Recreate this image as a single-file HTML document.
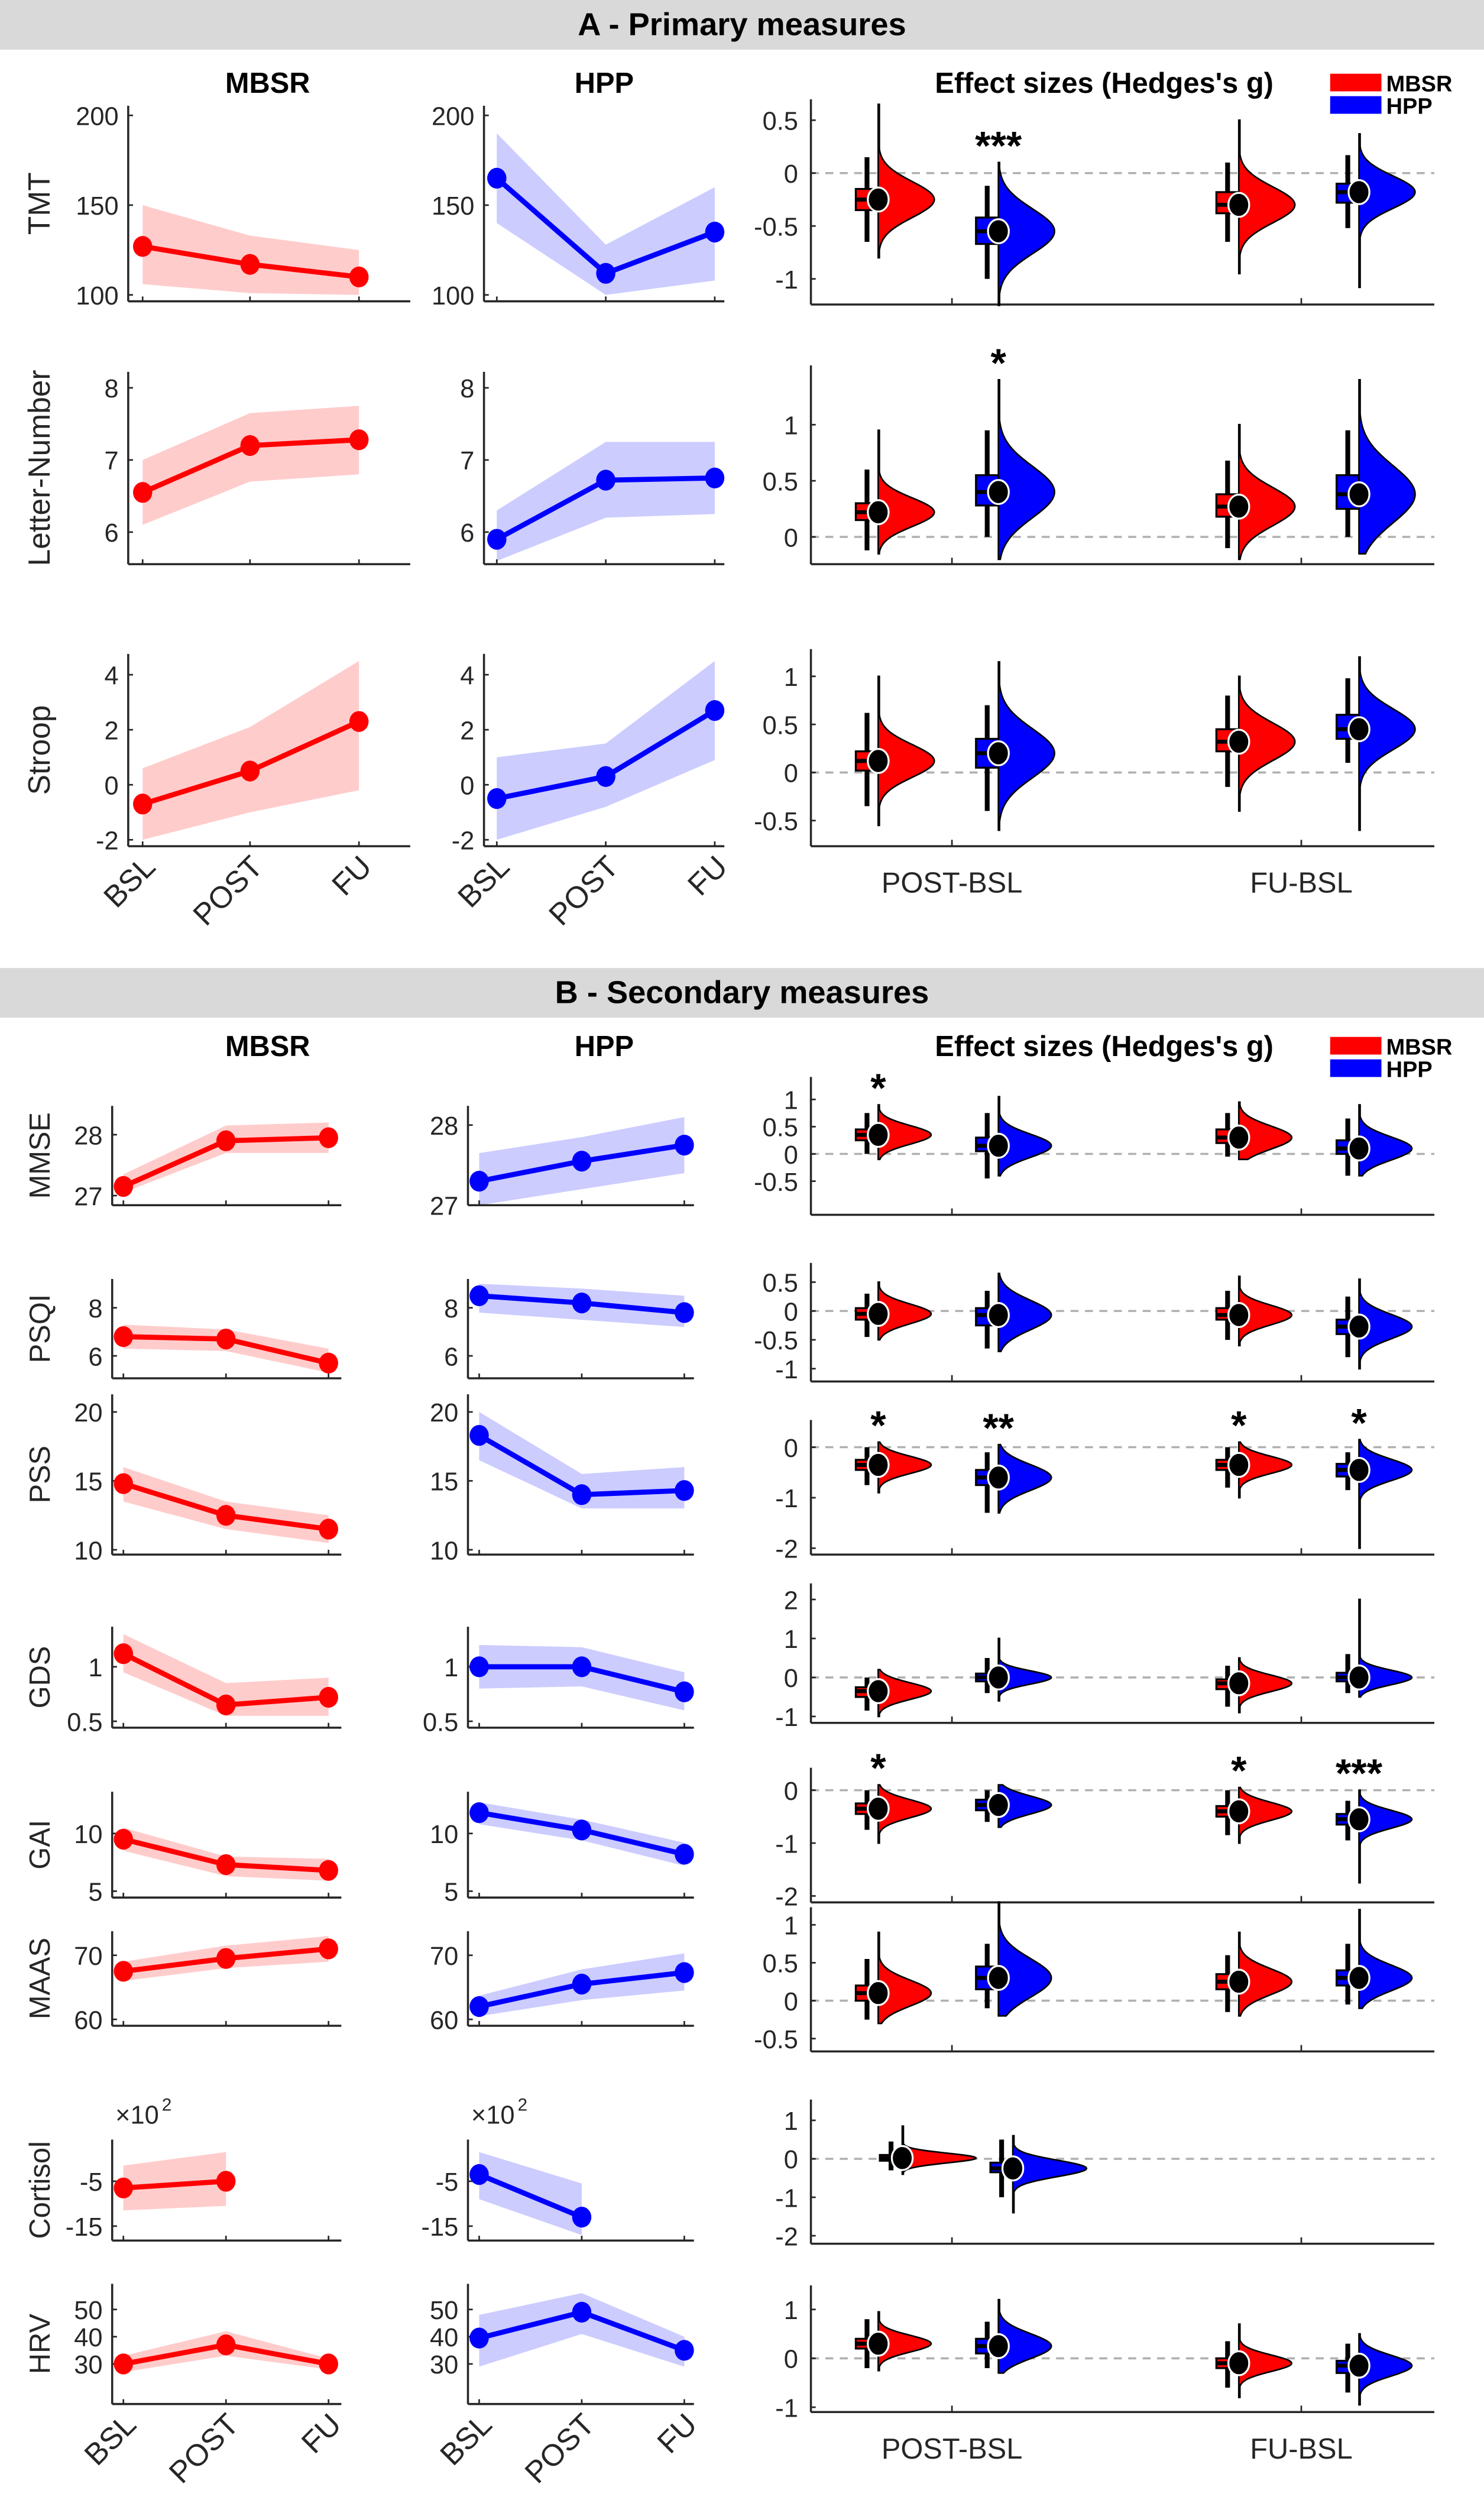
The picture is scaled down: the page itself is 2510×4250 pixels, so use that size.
<!DOCTYPE html>
<html><head><meta charset="utf-8"><title>MBSR vs HPP figure</title>
<style>
html,body{margin:0;padding:0;background:#fff;}
svg{display:block;font-family:"Liberation Sans",Arial,sans-serif;}
</style></head>
<body>
<svg id="fig" width="2510" height="4250" viewBox="0 0 926 1568" preserveAspectRatio="none" xmlns="http://www.w3.org/2000/svg">
<rect x="0" y="0" width="926" height="1568" fill="#fff"/>
<rect x="0" y="0" width="926" height="31" fill="#d9d9d9"/>
<text x="463" y="22" text-anchor="middle" font-size="20" font-weight="bold">A - Primary measures</text>
<rect x="0" y="604" width="926" height="31" fill="#d9d9d9"/>
<text x="463" y="626" text-anchor="middle" font-size="20" font-weight="bold">B - Secondary measures</text>
<g id="plots"></g>
</svg>
<script>
// ---------- DATA ----------
const timepoints = ["BSL","POST","FU"];
const contrasts = ["POST-BSL","FU-BSL"];
const measuresA = ["TMT","Letter-Number","Stroop"];
const measuresB = ["MMSE","PSQI","PSS","GDS","GAI","MAAS","Cortisol","HRV"];

const mbsrMean = {TMT:[127,117,110],"Letter-Number":[6.55,7.2,7.28],Stroop:[-0.7,0.5,2.3],MMSE:[27.15,27.9,27.95],PSQI:[6.8,6.7,5.7],PSS:[14.8,12.5,11.5],GDS:[1.12,0.65,0.72],GAI:[9.5,7.3,6.8],MAAS:[67.5,69.5,71],Cortisol:[-6.5,-5],HRV:[30,37,30]};
const mbsrLo = {TMT:[106,101,100],"Letter-Number":[6.1,6.7,6.8],Stroop:[-2,-1,-0.2],MMSE:[27.05,27.7,27.7],PSQI:[6.3,6.2,5.3],PSS:[13.5,11.5,10.5],GDS:[0.95,0.55,0.55],GAI:[8.5,6.3,5.9],MAAS:[66,68,69],Cortisol:[-11.5,-10.5],HRV:[27,33,28]};
const mbsrHi = {TMT:[150,133,125],"Letter-Number":[7.0,7.65,7.75],Stroop:[0.6,2.1,4.5],MMSE:[27.35,28.15,28.2],PSQI:[7.3,7.1,6.3],PSS:[16,13.5,12.5],GDS:[1.3,0.85,0.9],GAI:[10.5,8.0,7.8],MAAS:[69,71.5,73],Cortisol:[-1.5,1.5],HRV:[33,42,32]};
const hppMean = {TMT:[165,112,135],"Letter-Number":[5.9,6.72,6.75],Stroop:[-0.5,0.3,2.7],MMSE:[27.3,27.55,27.75],PSQI:[8.5,8.2,7.8],PSS:[18.3,14,14.3],GDS:[1.0,1.0,0.77],GAI:[11.8,10.3,8.2],MAAS:[62,65.5,67.3],Cortisol:[-3.5,-13],HRV:[39.5,49,35]};
const hppLo = {TMT:[140,100,108],"Letter-Number":[5.6,6.2,6.25],Stroop:[-2,-0.8,0.9],MMSE:[27.0,27.2,27.4],PSQI:[7.8,7.5,7.2],PSS:[16.5,13,13],GDS:[0.8,0.82,0.6],GAI:[10.8,9.4,7.2],MAAS:[60.5,63,64.5],Cortisol:[-9,-17],HRV:[29,41,29]};
const hppHi = {TMT:[190,128,160],"Letter-Number":[6.3,7.25,7.25],Stroop:[1.0,1.5,4.5],MMSE:[27.65,27.85,28.1],PSQI:[9.0,8.8,8.5],PSS:[20,15.5,16],GDS:[1.2,1.18,0.95],GAI:[12.7,11.2,9.2],MAAS:[63.7,67.8,70.3],Cortisol:[1.5,-5.5],HRV:[48,56,40]};
const leftTicks = {TMT:[200,150,100],"Letter-Number":[8,7,6],Stroop:[4,2,0,-2],MMSE:[28,27],PSQI:[8,6],PSS:[20,15,10],GDS:[1,0.5],GAI:[10,5],MAAS:[70,60],Cortisol:[-5,-15],HRV:[50,40,30]};

// effect sizes: order [MBSR POST-BSL, HPP POST-BSL, MBSR FU-BSL, HPP FU-BSL]
const effMean = {TMT:[-0.25,-0.55,-0.3,-0.18],"Letter-Number":[0.22,0.4,0.27,0.38],Stroop:[0.12,0.2,0.32,0.45],MMSE:[0.35,0.15,0.3,0.1],PSQI:[-0.05,-0.07,-0.07,-0.27],PSS:[-0.35,-0.6,-0.35,-0.45],GDS:[-0.35,0,-0.15,0],GAI:[-0.35,-0.28,-0.4,-0.55],MAAS:[0.1,0.3,0.25,0.3],Cortisol:[0.02,-0.25],HRV:[0.3,0.25,-0.1,-0.15]};
const effBoxLo = {TMT:[-0.35,-0.67,-0.38,-0.28],"Letter-Number":[0.15,0.28,0.18,0.25],Stroop:[0.02,0.05,0.22,0.35],MMSE:[0.25,0.05,0.2,0],PSQI:[-0.15,-0.25,-0.15,-0.4],PSS:[-0.45,-0.75,-0.45,-0.58],GDS:[-0.5,-0.1,-0.3,-0.1],GAI:[-0.45,-0.38,-0.5,-0.65],MAAS:[0,0.15,0.15,0.2],Cortisol:[-0.05,-0.35],HRV:[0.2,0.1,-0.2,-0.3]};
const effBoxHi = {TMT:[-0.15,-0.42,-0.18,-0.1],"Letter-Number":[0.3,0.55,0.38,0.55],Stroop:[0.22,0.35,0.45,0.6],MMSE:[0.45,0.3,0.45,0.25],PSQI:[0.05,0.05,0.05,-0.15],PSS:[-0.25,-0.45,-0.25,-0.33],GDS:[-0.25,0.1,-0.05,0.12],GAI:[-0.25,-0.18,-0.3,-0.45],MAAS:[0.2,0.45,0.35,0.4],Cortisol:[0.1,-0.1],HRV:[0.4,0.4,0,-0.05]};
const effWhLo = {TMT:[-0.65,-1.0,-0.65,-0.52],"Letter-Number":[-0.12,0,-0.1,0],Stroop:[-0.35,-0.4,-0.15,0.1],MMSE:[0,-0.45,-0.05,-0.4],PSQI:[-0.45,-0.65,-0.5,-0.8],PSS:[-0.75,-1.3,-0.8,-0.85],GDS:[-0.85,-0.4,-0.75,-0.4],GAI:[-0.75,-0.6,-0.85,-0.95],MAAS:[-0.25,-0.1,-0.15,-0.05],Cortisol:[-0.3,-1.0],HRV:[-0.2,-0.2,-0.6,-0.7]};
const effWhHi = {TMT:[0.15,-0.12,0.1,0.17],"Letter-Number":[0.6,0.95,0.68,0.95],Stroop:[0.62,0.7,0.8,0.98],MMSE:[0.75,0.75,0.75,0.65],PSQI:[0.3,0.35,0.35,0.25],PSS:[0,-0.1,0,-0.1],GDS:[0,0.5,0.3,0.6],GAI:[0,0,0,-0.2],MAAS:[0.55,0.75,0.6,0.75],Cortisol:[0.45,0.5],HRV:[0.8,0.75,0.35,0.3]};
const effVMin = {TMT:[-0.8,-1.25,-0.95,-1.08],"Letter-Number":[-0.15,-0.2,-0.2,-0.15],Stroop:[-0.55,-0.6,-0.4,-0.6],MMSE:[-0.1,-0.4,-0.1,-0.4],PSQI:[-0.5,-0.7,-0.6,-1.0],PSS:[-0.9,-1.3,-1.0,-2.0],GDS:[-1.0,-0.6,-0.9,-0.5],GAI:[-1.0,-0.7,-1.0,-1.75],MAAS:[-0.3,-0.2,-0.2,-0.1],Cortisol:[-0.4,-1.4],HRV:[-0.25,-0.3,-0.8,-0.95]};
const effVMax = {TMT:[0.65,0.1,0.5,0.37],"Letter-Number":[0.95,1.4,1.0,1.4],Stroop:[1.0,1.15,1.0,1.2],MMSE:[0.9,1.05,0.95,0.9],PSQI:[0.5,0.65,0.6,0.55],PSS:[0.1,0.05,0.1,0.15],GDS:[0.2,1.0,0.5,2.0],GAI:[0.1,0.1,0.05,0],MAAS:[0.9,1.3,0.9,1.2],Cortisol:[0.85,0.6],HRV:[0.95,1.2,0.7,0.5]};
const effStars = {TMT:["","***","",""],"Letter-Number":["","*","",""],Stroop:["","","",""],MMSE:["*","","",""],PSQI:["","","",""],PSS:["*","**","*","*"],GDS:["","","",""],GAI:["*","","*","***"],MAAS:["","","",""],Cortisol:["",""],HRV:["","","",""]};
const effTicks = {TMT:[0.5,0,-0.5,-1],"Letter-Number":[1,0.5,0],Stroop:[1,0.5,0,-0.5],MMSE:[1,0.5,0,-0.5],PSQI:[0.5,0,-0.5,-1],PSS:[0,-1,-2],GDS:[2,1,0,-1],GAI:[0,-1,-2],MAAS:[1,0.5,0,-0.5],Cortisol:[1,0,-1,-2],HRV:[1,0,-1]};

// ---------- LAYOUT (pixel geometry, not data) ----------
const layoutLeft = {
 TMT:{top:66,bot:188,a:[200,72,100,184],b:[200,72,100,184]},
 "Letter-Number":{top:232,bot:352,a:[8,242,6,332],b:[8,242,6,332]},
 Stroop:{top:408,bot:528,a:[4,421,-2,524],b:[4,421,-2,524]},
 MMSE:{top:690,bot:752,a:[28,708,27,746],b:[28,702,27,752]},
 PSQI:{top:798,bot:860,a:[8,816,6,846],b:[8,816,6,846]},
 PSS:{top:870,bot:970,a:[20,881,10,967],b:[20,881,10,967]},
 GDS:{top:1015,bot:1078,a:[1,1040,0.5,1074],b:[1,1040,0.5,1074]},
 GAI:{top:1118,bot:1184,a:[10,1144,5,1180],b:[10,1144,5,1180]},
 MAAS:{top:1205,bot:1264,a:[70,1220,60,1260],b:[70,1220,60,1260]},
 Cortisol:{top:1335,bot:1398,a:[-5,1361,-15,1389],b:[-5,1361,-15,1389]},
 HRV:{top:1425,bot:1500,a:[50,1441,30,1475],b:[50,1441,30,1475]}
};
const layoutEff = {
 TMT:{top:62,bot:190,s:[0,108,-1,174]},
 "Letter-Number":{top:228,bot:352,s:[1,265,0,335]},
 Stroop:{top:405,bot:528,s:[1,422,0,482]},
 MMSE:{top:672,bot:758,s:[1,686,0,720]},
 PSQI:{top:788,bot:862,s:[0.5,800,-1,854]},
 PSS:{top:886,bot:970,s:[0,903,-2,966]},
 GDS:{top:988,bot:1075,s:[2,998,-1,1071]},
 GAI:{top:1103,bot:1187,s:[0,1117,-2,1183]},
 MAAS:{top:1190,bot:1280,s:[1,1201,-0.5,1272]},
 Cortisol:{top:1310,bot:1400,s:[1,1323,-2,1395]},
 HRV:{top:1426,bot:1505,s:[1,1441,-1,1502]}
};
const RED="#ff0000", BLUE="#0000ff", RED_BAND="#ffcccc", BLUE_BAND="#ccccff";
const NS="http://www.w3.org/2000/svg";
const root=document.getElementById('plots');

function mk(tag,attrs,parent,text){
  const e=document.createElementNS(NS,tag);
  for(const k in attrs) e.setAttribute(k,attrs[k]);
  if(text!==undefined) e.textContent=text;
  (parent||root).appendChild(e);
  return e;
}
function lin(s){ // s=[v1,p1,v2,p2]
  const k=(s[3]-s[1])/(s[2]-s[0]);
  return v=>s[1]+(v-s[0])*k;
}
function fmt(v){ return String(v).replace(/^0\./,"0.").replace(/^-0\./,"-0."); }

function leftPanel(name,grp,axisX,xs,endX,yScale,top,bot,mean,lo,hi,color,band,showX,ticks,exp){
  const g=mk('g',{});
  
  
  const n=mean.length;
  const px=i=>xs[i];
  // band
  let pts=[];
  for(let i=0;i<n;i++) pts.push(px(i)+','+yScale(hi[i]));
  for(let i=n-1;i>=0;i--) pts.push(px(i)+','+yScale(lo[i]));
  const bd=mk('polygon',{points:pts.join(' '),fill:band,stroke:'none'},g);
  
  
  // axes
  const ya=mk('line',{x1:axisX,y1:top,x2:axisX,y2:bot,stroke:'#262626','stroke-width':1.3},g);
  
  
  const xa=mk('line',{x1:axisX,y1:bot,x2:endX,y2:bot,stroke:'#262626','stroke-width':1.3},g);
  
  
  for(let i=0;i<3;i++) mk('line',{x1:xs[i],y1:bot,x2:xs[i],y2:bot-3,stroke:'#262626','stroke-width':1},g);
  ticks.forEach(t=>{
    const y=yScale(t);
    mk('line',{x1:axisX,y1:y,x2:axisX+3,y2:y,stroke:'#262626','stroke-width':1},g);
    const tl=mk('text',{x:axisX-6,y:y+6,'text-anchor':'end','font-size':16,fill:'#262626'},g,fmt(t));
    
    
  });
  if(exp){
    const et=mk('text',{x:axisX+2,y:top-10,'font-size':16,fill:'#262626'},g,'×10');
    
    
    mk('text',{x:axisX+31,y:top-18,'font-size':11,fill:'#262626'},g,'2');
  }
  // line
  let d='';
  for(let i=0;i<n;i++) d+=(i?'L':'M')+px(i)+' '+yScale(mean[i]);
  const ln=mk('path',{d:d,fill:'none',stroke:color,'stroke-width':3.2},g);
  
  
  for(let i=0;i<n;i++){
    const c=mk('ellipse',{cx:px(i),cy:yScale(mean[i]),rx:6,ry:6.5,fill:color},g);
    
    
  }
  if(showX){
    for(let i=0;i<3;i++){
      const t=mk('text',{x:0,y:0,'text-anchor':'end','font-size':19,fill:'#262626',transform:'translate('+(xs[i]+9)+','+(bot+14)+') rotate(-45)'},g,timepoints[i]);
      
      
    }
  }
}

function effPanel(name,ys,top,bot,showX,splits,wmax){
  const g=mk('g',{});
  
  
  const ax=506, ex=895;
  const z=ys(0);
  const dz=mk('line',{x1:ax,y1:z,x2:ex,y2:z,stroke:'#b0b0b0','stroke-width':1.3,'stroke-dasharray':'5,4'},g);
  
  
  const ya=mk('line',{x1:ax,y1:top,x2:ax,y2:bot,stroke:'#262626','stroke-width':1.3},g);
  
  
  const xa=mk('line',{x1:ax,y1:bot,x2:ex,y2:bot,stroke:'#262626','stroke-width':1.3},g);
  
  
  [594,812].forEach(x=>mk('line',{x1:x,y1:bot,x2:x,y2:bot-4,stroke:'#262626','stroke-width':1},g));
  effTicks[name].forEach(t=>{
    const y=ys(t);
    mk('line',{x1:ax,y1:y,x2:ax+3,y2:y,stroke:'#262626','stroke-width':1},g);
    const tl=mk('text',{x:ax-8,y:y+6,'text-anchor':'end','font-size':16,fill:'#262626'},g,fmt(t));
    
    
  });
  const m=effMean[name];
  for(let i=0;i<m.length;i++){
    const sx=splits[i];
    const col=(i%2===0)?RED:BLUE;
    const grp=(i%2===0)?'mbsr':'hpp';
    const con=(i<2)?'post':'fu';
    const bl=effBoxLo[name][i], bh=effBoxHi[name][i];
    const sd=Math.max((bh-bl)*0.85,0.05);
    const vmin=effVMin[name][i], vmax=effVMax[name][i];
    // violin
    let d='M'+sx+' '+ys(vmax);
    const N=80;
    for(let k=0;k<=N;k++){
      const v=vmax-(vmax-vmin)*k/N;
      const w=Math.max(wmax*Math.exp(-0.5*Math.pow((v-m[i])/sd,2)),0.7);
      d+='L'+(sx+w).toFixed(2)+' '+ys(v).toFixed(2);
    }
    d+='L'+sx+' '+ys(vmin)+'Z';
    const vp=mk('path',{d:d,fill:col,stroke:'#000','stroke-width':1},g);
    
    
    // whisker
    const bw=14;
    const wx=sx-bw/2;
    const wh=mk('line',{x1:wx,y1:ys(effWhHi[name][i]),x2:wx,y2:ys(effWhLo[name][i]),stroke:'#000','stroke-width':3},g);
    
    
    // box
    const bx=mk('rect',{x:sx-bw,y:ys(bh),width:bw,height:ys(bl)-ys(bh),fill:col,stroke:'#000','stroke-width':1.2},g);
    
    
    mk('line',{x1:sx-bw,y1:ys(m[i]),x2:sx,y2:ys(m[i]),stroke:'#000','stroke-width':2.5},g);
    const c=mk('ellipse',{cx:sx,cy:ys(m[i]),rx:6.5,ry:7.5,fill:'#000',stroke:'#fff','stroke-width':1.2},g);
    
    
    const st=effStars[name][i];
    if(st){
      const s=mk('text',{x:sx,y:ys(vmax)-14+12,'text-anchor':'middle','font-size':25,'font-weight':'bold',fill:'#000'},g,st);
      
      
    }
  }
  if(showX){
    [[594,contrasts[0]],[812,contrasts[1]]].forEach(([x,t])=>{
      const tl=mk('text',{x:x,y:bot+29,'text-anchor':'middle','font-size':18,fill:'#262626'},g,t);
      
      
    });
  }
}

function headers(y,sec){
  const a=mk('text',{x:167,y:y,'text-anchor':'middle','font-size':18,'font-weight':'bold'},root,'MBSR');
  
  
  const b=mk('text',{x:377,y:y,'text-anchor':'middle','font-size':18,'font-weight':'bold'},root,'HPP');
  
  
  const c=mk('text',{x:689,y:y,'text-anchor':'middle','font-size':18,'font-weight':'bold'},root,"Effect sizes (Hedges's g)");
  
  
  const lg=mk('g',{});
  
  
  const r1=mk('rect',{x:830,y:y-12,width:32,height:11,fill:RED},lg);
  
  
  const t1=mk('text',{x:865,y:y-1,'font-size':14,'font-weight':'bold'},lg,'MBSR');
  
  
  const r2=mk('rect',{x:830,y:y+2,width:32,height:11,fill:BLUE},lg);
  
  
  const t2=mk('text',{x:865,y:y+13,'font-size':14,'font-weight':'bold'},lg,'HPP');
  
  
}
headers(58,'a');
headers(659,'b');

function row(name,sec,last){
  const L=layoutLeft[name], E=layoutEff[name];
  const A=sec==='a';
  const mAx=A?80:70, mXs=A?[89,156,224]:[77,141,205], mEnd=A?256:213;
  const hAx=A?302:292, hXs=A?[310,378,446]:[299,363,427], hEnd=A?452:433;
  const ttl=mk('text',{x:0,y:0,'text-anchor':'middle','font-size':A?19:18,fill:'#262626',transform:'translate('+(A?31:31)+','+((L.top+L.bot)/2)+') rotate(-90)'},root,name);
  
  
  const exp=name==='Cortisol';
  leftPanel(name,'mbsr',mAx,mXs,mEnd,lin(L.a),L.top,L.bot,mbsrMean[name],mbsrLo[name],mbsrHi[name],RED,RED_BAND,last,leftTicks[name],exp);
  leftPanel(name,'hpp',hAx,hXs,hEnd,lin(L.b),L.top,L.bot,hppMean[name],hppLo[name],hppHi[name],BLUE,BLUE_BAND,last,leftTicks[name],exp);
  const splits=exp?[563,632]:[548,623,773,848];
  effPanel(name,lin(E.s),E.top,E.bot,last,splits,exp?46:A?35:33);
}
measuresA.forEach((m,i)=>row(m,'a',i===measuresA.length-1));
measuresB.forEach((m,i)=>row(m,'b',i===measuresB.length-1));
</script>
</body></html>
